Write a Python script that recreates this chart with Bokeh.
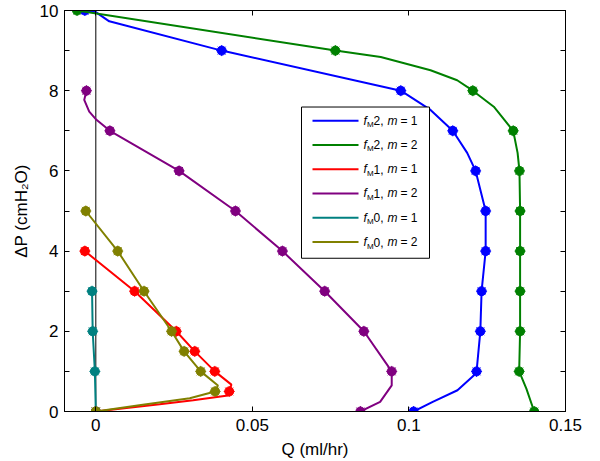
from bokeh.plotting import figure
from bokeh.models import (FixedTicker, LinearAxis, BoxAnnotation, Label, Span,
                          NumeralTickFormatter)
from bokeh.embed import file_html
from bokeh.resources import INLINE

# ---------------- data ----------------
x_ticks = [0, 0.05, 0.1, 0.15]
x_tick_labels = ["0", "0.05", "0.1", "0.15"]
y_ticks = [0, 1, 2, 3, 4, 5, 6, 7, 8, 9, 10]
y_tick_labels = ["0", "", "2", "", "4", "", "6", "", "8", "", "10"]

# fM2, m = 1 (blue)
fm2_m1_p = [10, 9, 8, 7, 6, 5, 4, 3, 2, 1, 0]
fm2_m1_q = [-0.0035, 0.0402, 0.0974, 0.114, 0.1213, 0.1245, 0.1245, 0.1232, 0.1228, 0.1216, 0.1015]
fm2_m1_path_p = [10, 9.96, 9.73, 9, 8, 7.52, 7, 6.45, 6, 5, 4, 3, 2, 1, 0.9, 0.53, 0.24, 0]
fm2_m1_path_q = [-0.0035, 0.0, 0.0043, 0.0402, 0.0974, 0.1069, 0.114, 0.1186, 0.1213, 0.1245,
                 0.1245, 0.1232, 0.1228, 0.1216, 0.1207, 0.1155, 0.1076, 0.1015]

# fM2, m = 2 (green)
fm2_m2_p = [10, 9, 8, 7, 6, 5, 4, 3, 2, 1, 0]
fm2_m2_q = [-0.006, 0.0765, 0.1204, 0.1333, 0.1353, 0.1355, 0.1355, 0.1355, 0.1355, 0.1352, 0.140]
fm2_m2_path_p = [10, 9, 8.84, 8.51, 8.26, 8, 7.6, 7, 6.45, 6, 5, 4, 3, 2, 1, 0.57, 0]
fm2_m2_path_q = [-0.006, 0.0765, 0.091, 0.1069, 0.1154, 0.1204, 0.1271, 0.1333, 0.1347, 0.1353,
                 0.1355, 0.1355, 0.1355, 0.1355, 0.1352, 0.1375, 0.140]

# fM1, m = 1 (red)
fm1_m1_p = [4, 3, 2, 1.5, 1, 0.5, 0]
fm1_m1_q = [-0.0035, 0.0124, 0.0257, 0.0316, 0.038, 0.0426, 0.0]
fm1_m1_path_p = [4, 3, 2, 1.5, 1, 0.67, 0.5, 0.40, 0.28, 0.18, 0.07, 0]
fm1_m1_path_q = [-0.0035, 0.0124, 0.0257, 0.0316, 0.038, 0.0433, 0.0426, 0.0422, 0.0311,
                 0.0204, 0.0077, 0.0]

# fM1, m = 2 (purple)
fm1_m2_p = [8, 7, 6, 5, 4, 3, 2, 1, 0]
fm1_m2_q = [-0.003, 0.0045, 0.0266, 0.0446, 0.0596, 0.0731, 0.0856, 0.0945, 0.0845]
fm1_m2_path_p = [8, 7.77, 7.48, 7.29, 7, 6, 5, 4, 3, 2, 1, 0.65, 0.24, 0]
fm1_m2_path_q = [-0.003, -0.0037, -0.0021, 0.0, 0.0045, 0.0266, 0.0446, 0.0596, 0.0731,
                 0.0856, 0.0945, 0.0945, 0.0908, 0.0845]

# fM0, m = 1 (teal)
fm0_m1_p = [3, 2, 1, 0]
fm0_m1_q = [-0.0012, -0.0010, -0.0003, 0.0]

# fM0, m = 2 (olive)
fm0_m2_p = [5, 4, 3, 2, 1.5, 1, 0.5, 0]
fm0_m2_q = [-0.0032, 0.007, 0.0154, 0.0242, 0.0282, 0.0335, 0.0381, 0.0]
fm0_m2_path_p = [5, 4, 3, 2, 1.5, 1, 0.65, 0.5, 0.33, 0.17, 0]
fm0_m2_path_q = [-0.0032, 0.007, 0.0154, 0.0242, 0.0282, 0.0335, 0.039, 0.0381, 0.030, 0.015, 0.0]

series = [
    ("2", "1", "#0000ff", fm2_m1_q, fm2_m1_p, fm2_m1_path_q, fm2_m1_path_p),
    ("2", "2", "#008000", fm2_m2_q, fm2_m2_p, fm2_m2_path_q, fm2_m2_path_p),
    ("1", "1", "#ff0000", fm1_m1_q, fm1_m1_p, fm1_m1_path_q, fm1_m1_path_p),
    ("1", "2", "#800080", fm1_m2_q, fm1_m2_p, fm1_m2_path_q, fm1_m2_path_p),
    ("0", "1", "#008080", fm0_m1_q, fm0_m1_p, fm0_m1_q, fm0_m1_p),
    ("0", "2", "#808000", fm0_m2_q, fm0_m2_p, fm0_m2_path_q, fm0_m2_path_p),
]

FONT = "Liberation Sans"
X0, X1 = -0.01, 0.15
Y0, Y1 = 0, 10

W, H = 600, 461
BL, BR, BT, BB = 64, 35, 10, 48

p = figure(width=W, height=H, x_range=(X0, X1), y_range=(Y0, Y1),
           output_backend="svg", toolbar_location=None,
           min_border_left=BL, min_border_right=BR, min_border_top=BT, min_border_bottom=BB,
           background_fill_color="white", border_fill_color="white")
p.grid.visible = False
p.outline_line_color = "black"
p.outline_line_width = 1

def style_axis(ax, show_labels):
    ax.major_tick_in = 5
    ax.major_tick_out = 0
    ax.minor_tick_line_color = None
    ax.axis_line_color = "black"
    ax.major_tick_line_color = "black"
    ax.major_label_text_font = FONT
    ax.major_label_text_color = "black"
    ax.axis_label_text_font = FONT
    ax.axis_label_text_font_style = "normal"
    ax.axis_label_text_color = "black"
    if show_labels:
        ax.major_label_text_font_size = "17px"
        ax.axis_label_text_font_size = "17px"
    else:
        ax.major_label_text_font_size = "0px"
        ax.major_label_standoff = 0

x_over = {t: l for t, l in zip(x_ticks, x_tick_labels)}
y_over = {t: l for t, l in zip(y_ticks, y_tick_labels)}

xa = p.xaxis[0]
xa.ticker = FixedTicker(ticks=x_ticks)
xa.formatter = NumeralTickFormatter(format="0.[00]")
xa.major_label_overrides = x_over
style_axis(xa, True)
xa.major_label_standoff = 7
xa.axis_label = "Q (ml/hr)"
xa.axis_label_standoff = 6

ya = p.yaxis[0]
ya.ticker = FixedTicker(ticks=y_ticks)
ya.major_label_overrides = y_over
style_axis(ya, True)
ya.major_label_standoff = 6
ya.axis_label = "ΔP (cmH₂O)"
ya.axis_label_standoff = 6

top = LinearAxis(ticker=FixedTicker(ticks=x_ticks), major_label_overrides={t: "" for t in x_ticks})
style_axis(top, False)
p.add_layout(top, "above")
right = LinearAxis(ticker=FixedTicker(ticks=y_ticks), major_label_overrides={t: "" for t in y_ticks})
style_axis(right, False)
p.add_layout(right, "right")

p.add_layout(Span(location=0, dimension="height", line_color="black", line_width=1, level="underlay"))

for fm, m, col, q, pp, lq, lp in series:
    p.line(lq, lp, line_color=col, line_width=2)
    p.scatter(q, pp, marker="circle", size=9, fill_color=col, line_color=col)
    p.scatter(q, pp, marker="asterisk", size=11, line_color=col, line_width=1)

# ---------------- custom legend (canvas pixel geometry -> data) ----------------
FL, FR = BL, W - BR
FT, FB = BT, H - BB

def dx(px):
    return X0 + (px - FL) / (FR - FL) * (X1 - X0)

def dy(py):
    return Y1 - (py - FT) / (FB - FT) * (Y1 - Y0)

p.add_layout(BoxAnnotation(left=dx(301), right=dx(429), top=dy(107), bottom=dy(259),
                           fill_color="white", fill_alpha=1.0, line_color="black",
                           line_width=1, line_alpha=1.0))

row0, row_step = 120.7, 24.4
for i, (fm, m, col, *_rest) in enumerate(series):
    ry = dy(row0 + i * row_step)
    seg = p.segment(x0=[dx(312)], y0=[ry], x1=[dx(358)], y1=[ry], line_color=col, line_width=2)
    seg.level = "overlay"
    tx = dx(363)
    pieces = [
        ("f", "italic", "12px", 0, 0),
        ("M", "normal", "8px", 3.6, -4),
        (fm + ",", "normal", "12px", 10, 0),
        ("m", "italic", "12px", 24, 0),
        ("= " + m, "normal", "12px", 37, 0),
    ]
    for txt, style, size, xo, yo in pieces:
        p.add_layout(Label(x=tx, y=ry, x_units="data", y_units="data", text=txt,
                           text_font=FONT, text_font_style=style, text_font_size=size,
                           text_baseline="middle", text_align="left", text_color="black",
                           x_offset=xo, y_offset=yo, level="overlay"))

open("out.html", "w").write(file_html(p, INLINE))
